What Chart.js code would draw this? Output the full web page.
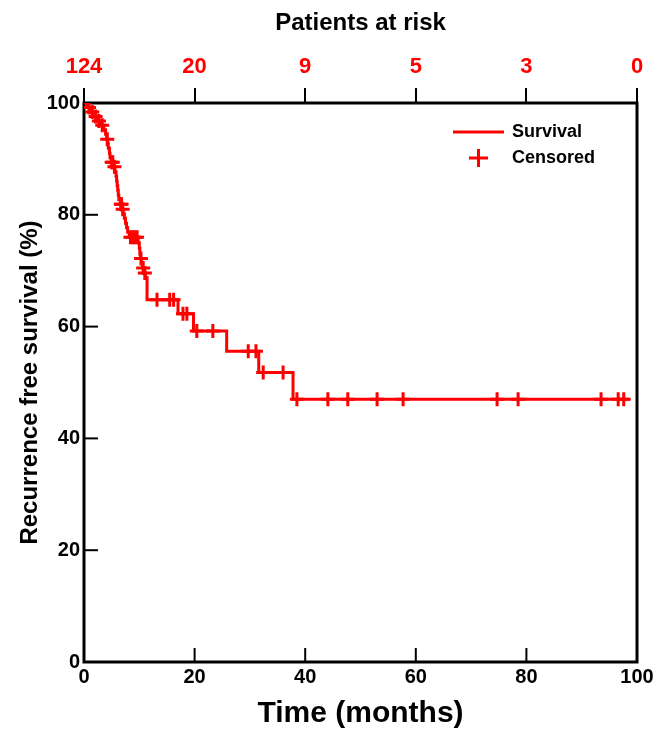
<!DOCTYPE html>
<html>
<head>
<meta charset="utf-8">
<script src="https://cdn.jsdelivr.net/npm/chart.js@4.4.0/dist/chart.umd.min.js"></script>
<style>
  body { margin: 0; background: #fff; }
  canvas { display: block; }
</style>
</head>
<body>
<canvas id="kmChart" width="653" height="730"></canvas>
<script>
// Kaplan-Meier steps (months, % recurrence free)
const stepTimes = [0, 0.6, 1.2, 1.8, 2.4, 3.0, 3.6, 3.9, 4.1, 4.3, 4.4, 4.6, 4.7, 4.9,
  5.4, 5.6, 5.8, 5.9, 6.0, 6.1, 6.2, 6.3, 6.6, 6.9, 7.1, 7.3, 7.5, 7.7, 7.9, 8.2,
  9.8, 10.0, 10.1, 10.2, 10.4, 10.6, 10.9, 11.1, 11.4, 17.0, 19.8, 25.8, 31.6, 37.8, 98.6];
const stepSurv = [100, 99.2, 98.4, 97.6, 96.8, 96.0, 95.2, 94.4, 93.5, 92.7, 91.9, 91.0, 90.2, 89.4,
  88.6, 87.7, 86.9, 86.0, 85.2, 84.4, 83.5, 82.7, 81.9, 81.0, 80.2, 79.4, 78.5, 77.7, 76.9, 76.0,
  75.0, 74.0, 73.0, 72.2, 71.4, 70.5, 69.6, 68.8, 64.8, 62.3, 59.2, 55.6, 51.8, 47.0, 47.0];

// Censored observations
const censorTimes = [0.9, 1.5, 2.1, 2.7, 3.3, 4.2, 5.0, 5.2, 5.5, 6.65, 6.8, 7.0,
  8.4, 8.8, 9.2, 9.6, 10.3, 10.7, 11.0, 13.2, 15.5, 16.2, 17.9, 18.6, 20.4, 23.3,
  29.7, 31.1, 32.4, 36.0, 38.5, 44.1, 47.7, 53.0, 57.7, 74.7, 78.5, 93.5, 96.6, 97.6];
const censorSurv = [99.2, 98.4, 97.6, 96.8, 96.0, 93.5, 89.4, 89.4, 88.6, 81.9, 81.9, 81.0,
  76.0, 76.0, 76.0, 76.0, 72.2, 70.5, 69.6, 64.8, 64.8, 64.8, 62.3, 62.3, 59.2, 59.2,
  55.6, 55.6, 51.8, 51.8, 47.0, 47.0, 47.0, 47.0, 47.0, 47.0, 47.0, 47.0, 47.0, 47.0];

// Patients at risk (top axis)
const riskMonths = [0, 20, 40, 60, 80, 100];
const atRisk = ['124', '20', '9', '5', '3', '0'];

const RED = '#ff0000';
const FONT = "'Liberation Sans', Arial, sans-serif";

// Frame, inward tick marks and the legend box
const framePlugin = {
  id: 'frame',
  beforeDatasetsDraw(chart) {
    const { ctx, chartArea: a, scales } = chart;
    ctx.save();
    ctx.strokeStyle = '#000';
    ctx.lineWidth = 2;
    riskMonths.slice(1, -1).forEach(function (v) {
      const px = scales.x.getPixelForValue(v);
      ctx.beginPath();
      ctx.moveTo(px, a.bottom);
      ctx.lineTo(px, a.bottom - 14);
      ctx.stroke();
    });
    [20, 40, 60, 80].forEach(function (v) {
      const py = scales.y.getPixelForValue(v);
      ctx.beginPath();
      ctx.moveTo(a.left, py);
      ctx.lineTo(a.left + 14, py);
      ctx.stroke();
    });
    ctx.lineWidth = 3;
    ctx.strokeRect(a.left, a.top, a.right - a.left, a.bottom - a.top);
    ctx.restore();
  },
  afterDraw(chart) {
    const ctx = chart.ctx;
    ctx.save();
    ctx.strokeStyle = RED;
    ctx.lineWidth = 3;
    ctx.beginPath();
    ctx.moveTo(453, 132);
    ctx.lineTo(504, 132);
    ctx.moveTo(469, 158);
    ctx.lineTo(488, 158);
    ctx.moveTo(478.5, 149);
    ctx.lineTo(478.5, 167);
    ctx.stroke();
    ctx.fillStyle = '#000';
    ctx.font = 'bold 18px ' + FONT;
    ctx.textBaseline = 'middle';
    ctx.fillText('Survival', 512, 132);
    ctx.fillText('Censored', 512, 158);
    ctx.restore();
  }
};

// keep the plot box fixed, let edge tick labels run into the margin
function noSidePad(s) {
  s.paddingLeft = 0;
  s.paddingRight = 0;
}

const ctx = document.getElementById('kmChart').getContext('2d');

const kmChart = new Chart(ctx, {
  type: 'line',
  data: {
    datasets: [
      {
        label: 'Survival',
        data: stepTimes.map(function (t, i) { return { x: t, y: stepSurv[i] }; }),
        stepped: true,
        borderColor: RED,
        borderWidth: 3,
        pointRadius: 0,
        fill: false
      },
      {
        label: 'Censored',
        data: censorTimes.map(function (t, i) { return { x: t, y: censorSurv[i] }; }),
        showLine: false,
        pointStyle: 'cross',
        pointRadius: 7,
        pointBorderWidth: 3,
        borderColor: RED,
        backgroundColor: RED
      }
    ]
  },
  options: {
    responsive: false,
    animation: false,
    devicePixelRatio: 1,
    layout: { padding: { right: 16 } },
    plugins: {
      legend: { display: false },
      tooltip: { enabled: false }
    },
    scales: {
      x: {
        type: 'linear',
        position: 'bottom',
        min: 0,
        max: 100,
        afterFit: function (s) { s.height = 68; noSidePad(s); },
        ticks: {
          stepSize: 20,
          color: '#000',
          padding: 3,
          maxRotation: 0,
          font: { family: FONT, size: 20, weight: 'bold' }
        },
        grid: { display: false, drawTicks: false },
        border: { display: false },
        title: {
          display: true,
          text: 'Time (months)',
          color: '#000',
          padding: { top: 0, bottom: 0 },
          font: { family: FONT, size: 30, weight: 'bold', lineHeight: 1.1 }
        }
      },
      x2: {
        type: 'linear',
        position: 'top',
        min: 0,
        max: 100,
        afterFit: function (s) { s.height = 103; noSidePad(s); },
        ticks: {
          stepSize: 20,
          color: RED,
          padding: 8,
          maxRotation: 0,
          font: { family: FONT, size: 22, weight: 'bold' },
          callback: function (v) {
            const i = riskMonths.indexOf(v);
            return i >= 0 ? atRisk[i] : '';
          }
        },
        grid: { drawOnChartArea: false, drawTicks: true, tickLength: 15, color: '#000', lineWidth: 2 },
        border: { display: false },
        title: {
          display: true,
          text: 'Patients at risk',
          color: '#000',
          padding: { top: 9, bottom: 0 },
          font: { family: FONT, size: 24, weight: 'bold' }
        }
      },
      y: {
        min: 0,
        max: 100,
        afterFit: function (s) { s.width = 84; },
        ticks: {
          stepSize: 20,
          color: '#000',
          padding: 4,
          font: { family: FONT, size: 20, weight: 'bold' }
        },
        grid: { display: false, drawTicks: false },
        border: { display: false },
        title: {
          display: true,
          text: 'Recurrence free survival (%)',
          color: '#000',
          padding: { top: 16, bottom: 0 },
          font: { family: FONT, size: 24, weight: 'bold' }
        }
      }
    }
  },
  plugins: [framePlugin]
});
</script>
</body>
</html>
